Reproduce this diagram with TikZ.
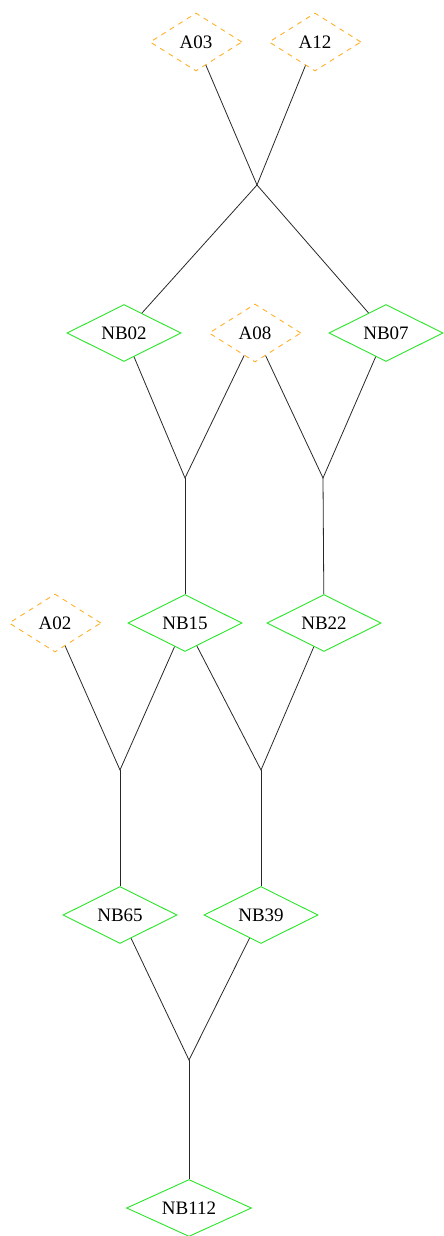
\documentclass[tikz,border=0pt]{standalone}
\usepackage{fontspec}
\setmainfont{Liberation Serif}
\usetikzlibrary{shapes.geometric}

\begin{document}
\begin{tikzpicture}[x=1pt,y=-1pt,
    base/.style={diamond, aspect=2, inner sep=0pt, font=\fontsize{19}{21}\selectfont},
    atom/.style={base, draw={rgb,255:red,255;green,176;blue,40}, dash pattern=on 5pt off 5pt,
      line width=0.9pt, minimum width=92pt, minimum height=58pt},
    nbox/.style={base, draw={rgb,255:red,40;green,230;blue,40}, line width=0.9pt,
      minimum width=114pt, minimum height=57pt},
    link/.style={draw={rgb,255:red,40;green,40;blue,40}, line width=0.8pt}]
    \useasboundingbox (0,0) rectangle (444,1236);
    % leaves and nodes
    \node[atom] (A03) at (196,42) {A03};
    \node[atom] (A12) at (315,42) {A12};
    \node[nbox] (NB02) at (124,333) {NB02};
    \node[atom] (A08) at (255,333) {A08};
    \node[nbox] (NB07) at (386,333) {NB07};
    \node[atom] (A02) at (55,623) {A02};
    \node[nbox] (NB15) at (185,623) {NB15};
    \node[nbox] (NB22) at (324,623) {NB22};
    \node[nbox] (NB65) at (120,915) {NB65};
    \node[nbox] (NB39) at (261,915) {NB39};
    \node[nbox,minimum width=125pt] (NB112) at (189,1208) {NB112};
    % joins
    \coordinate (J1) at (257,185);
    \coordinate (J2) at (185,478);
    \coordinate (J3) at (323,478);
    \coordinate (J4) at (120,770);
    \coordinate (J5) at (261,770);
    \coordinate (J6) at (189,1060);
    \draw[link] (A03) -- (J1) -- (NB02);
    \draw[link] (A12) -- (J1) -- (NB07);
    \draw[link] (NB02) -- (J2) -- (A08);
    \draw[link] (J2) -- (NB15);
    \draw[link] (A08) -- (J3) -- (NB07);
    \draw[link] (J3) -- (NB22);
    \draw[link] (A02) -- (J4) -- (NB15);
    \draw[link] (J4) -- (NB65);
    \draw[link] (NB15) -- (J5) -- (NB22);
    \draw[link] (J5) -- (NB39);
    \draw[link] (NB65) -- (J6) -- (NB39);
    \draw[link] (J6) -- (NB112);
\end{tikzpicture}
\end{document}
